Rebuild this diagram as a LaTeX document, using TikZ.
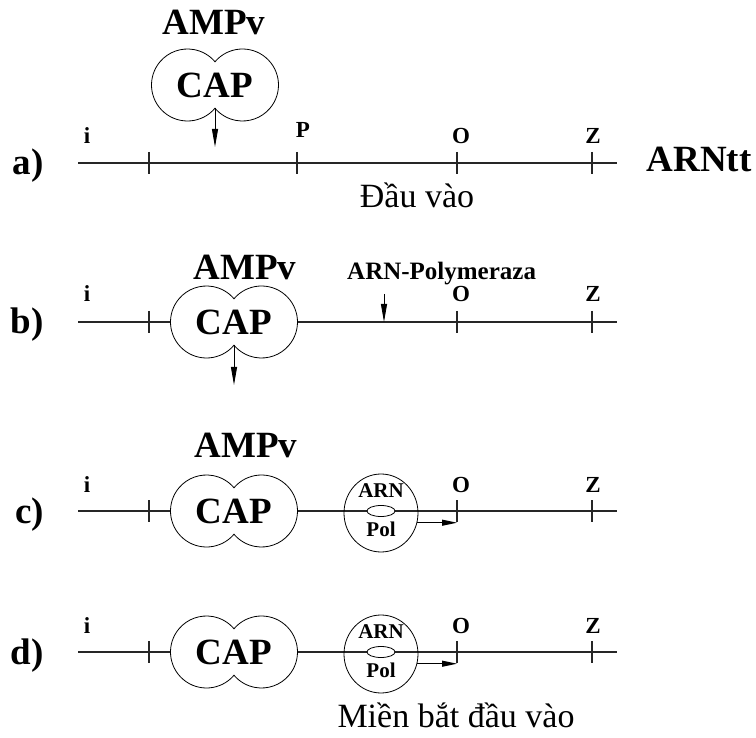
\documentclass[tikz,border=0pt]{standalone}
\usepackage{fontspec}
\setmainfont{Liberation Serif}
\usetikzlibrary{arrows.meta,shapes.geometric}

\tikzset{
  strand/.style={line width=1.1pt, draw=black!85},
  tickmark/.style={line width=1.1pt, draw=black!85},
  outline/.style={draw, line width=0.8pt},
  bigtxt/.style={font=\fontsize{37}{37}\selectfont\bfseries, inner sep=0pt},
  sitetxt/.style={font=\fontsize{23}{23}\selectfont\bfseries, inner sep=0pt},
  enztxt/.style={font=\fontsize{21}{21}\selectfont\bfseries, inner sep=0pt},
  polytxt/.style={font=\fontsize{25}{25}\selectfont\bfseries, inner sep=0pt},
  captxt/.style={font=\fontsize{34}{34}\selectfont, inner sep=0pt},
  downarrow/.style={line width=0.9pt, -{Triangle[length=18pt,width=6pt]}},
  sidearrow/.style={line width=0.9pt, -{Triangle[length=15pt,width=6pt]}},
  % CAP dimer: two overlapping circles drawn as one outline
  capdimer/.pic={
    \path[outline, fill=white] (-27.5,0) ++(40.2:36)
      arc[start angle=40.2, end angle=319.8, radius=36]
      arc[start angle=220.2, end angle=499.8, radius=36] -- cycle;
    \node[bigtxt] (-txt) at (0,0) {CAP};
    \coordinate (-bot) at (0,23.2);
  },
  % RNA polymerase bound on the strand
  polymerase/.pic={
    \node[ellipse, outline, minimum width=74pt, minimum height=78pt, inner sep=0pt] (-body) at (0,2) {};
    \node[ellipse, outline, fill=white, minimum width=28pt, minimum height=11pt, inner sep=0pt] (-core) at (0,0) {};
    \node[enztxt, anchor=base] (-top) at (0,-14) {ARN};
    \node[enztxt, anchor=base] (-bottom) at (0,25) {Pol};
  }
}

\begin{document}
\begin{tikzpicture}[x=1pt,y=-1pt]
\useasboundingbox (0,0) rectangle (756,738);

% ---------------- a) ----------------
\coordinate (aw) at (78,163);
\coordinate (ae) at (617,163);
\draw[strand] (aw) -- (ae);
\foreach \x in {149,297,457,592} \draw[tickmark] (\x,152) -- (\x,174);
\node[bigtxt, anchor=base east] (la) at (44,175) {a)};
\node[sitetxt, anchor=base] (ai) at (87,144) {i};
\node[sitetxt, anchor=base] (aP) at (303,138) {P};
\node[sitetxt, anchor=base] (aO) at (461,144) {O};
\node[sitetxt, anchor=base] (aZ) at (593,144) {Z};
\node[bigtxt, anchor=base] (arntt) at (699,172) {ARNtt};
\node[bigtxt, anchor=base] (ampa) at (214,35) {AMPv};
\pic (capa) at (215,85) {capdimer};
\coordinate (capa-tip) at (215,147);
\draw[downarrow] (capa-bot) -- (capa-tip);
\node[captxt, anchor=base] (dauvao) at (417,208) {Đầu vào};

% ---------------- b) ----------------
\coordinate (bw) at (78,322);
\coordinate (be) at (617,322);
\draw[strand] (bw) -- (be);
\foreach \x in {149,457,592} \draw[tickmark] (\x,311) -- (\x,333);
\node[bigtxt, anchor=base east] (lb) at (44,334) {b)};
\node[sitetxt, anchor=base] (bi) at (87,302) {i};
\node[sitetxt, anchor=base] (bO) at (461,302) {O};
\node[sitetxt, anchor=base] (bZ) at (593,302) {Z};
\node[bigtxt, anchor=base] (ampb) at (245,280) {AMPv};
\pic (capb) at (234,322) {capdimer};
\coordinate (capb-tip) at (234,385);
\draw[downarrow] (capb-bot) -- (capb-tip);
\node[polytxt, anchor=base west] (polylab) at (347,280) {ARN-Polymeraza};
\coordinate (polyfrom) at (384,294);
\coordinate (polyto) at (384,322);
\draw[downarrow] (polyfrom) -- (polyto);

% ---------------- c) ----------------
\coordinate (cw) at (78,511);
\coordinate (ce) at (617,511);
\draw[strand] (cw) -- (ce);
\foreach \x in {149,457,592} \draw[tickmark] (\x,500) -- (\x,522);
\coordinate (cOtick) at (457,511);
\node[bigtxt, anchor=base east] (lc) at (44,523) {c)};
\node[sitetxt, anchor=base] (ci) at (87,492) {i};
\node[sitetxt, anchor=base] (cO) at (461,492) {O};
\node[sitetxt, anchor=base] (cZ) at (593,492) {Z};
\node[bigtxt, anchor=base] (ampc) at (246,457) {AMPv};
\pic (capc) at (234,511) {capdimer};
\pic (polc) at (381,511) {polymerase};
\path (polc-body.-15) coordinate (polc-edge);
\draw[sidearrow] (polc-edge) -- (polc-edge -| cOtick);

% ---------------- d) ----------------
\coordinate (dw) at (78,652);
\coordinate (de) at (617,652);
\draw[strand] (dw) -- (de);
\foreach \x in {149,457,592} \draw[tickmark] (\x,641) -- (\x,663);
\coordinate (dOtick) at (457,652);
\node[bigtxt, anchor=base east] (ld) at (44,664) {d)};
\node[sitetxt, anchor=base] (di) at (87,633) {i};
\node[sitetxt, anchor=base] (dO) at (461,633) {O};
\node[sitetxt, anchor=base] (dZ) at (593,633) {Z};
\pic (capd) at (234,652) {capdimer};
\pic (pold) at (381,652) {polymerase};
\path (pold-body.-15) coordinate (pold-edge);
\draw[sidearrow] (pold-edge) -- (pold-edge -| dOtick);
\node[captxt, anchor=base] (mien) at (456,727) {Miền bắt đầu vào};

\end{tikzpicture}
\end{document}
